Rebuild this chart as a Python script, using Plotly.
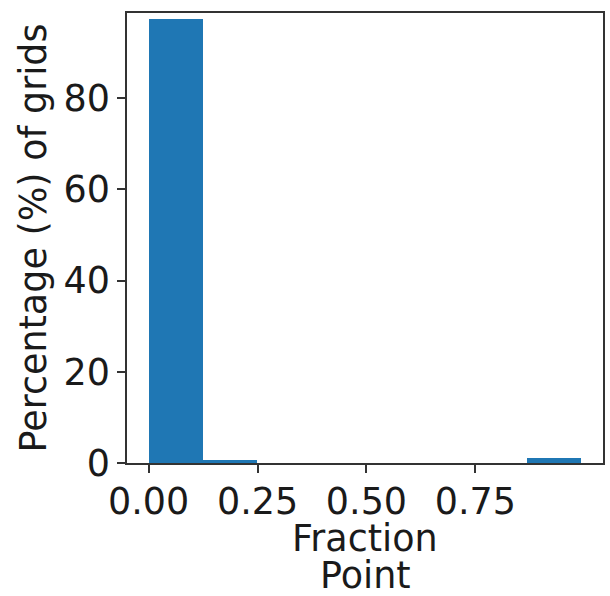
import plotly.graph_objects as go

# Histogram of the fraction point per grid (8 equal bins)
bin_edges = [0.0, 0.1241, 0.2483, 0.3724, 0.4965, 0.6206, 0.7448, 0.8689, 0.993]
percent = [97.4, 0.6, 0.0, 0.0, 0.0, 0.0, 0.0, 1.2]

x_ticks = [0.0, 0.25, 0.5, 0.75]
x_tick_text = ["0.00", "0.25", "0.50", "0.75"]
y_ticks = [0, 20, 40, 60, 80]
x_title_lines = ["Fraction", "Point"]
y_title = "Percentage (%) of grids"

centers = [(a + b) / 2 for a, b in zip(bin_edges[:-1], bin_edges[1:])]
widths = [b - a for a, b in zip(bin_edges[:-1], bin_edges[1:])]

ink = "#1a1a1a"
font = dict(family="DejaVu Sans", size=36.5, color=ink)

fig = go.Figure(
    go.Bar(
        x=centers,
        y=percent,
        width=widths,
        marker=dict(color="#1f77b4", line=dict(width=0)),
    )
)

axis_common = dict(
    showline=True,
    linecolor="#333333",
    linewidth=1.5,
    mirror=True,
    ticks="outside",
    ticklen=8,
    tickwidth=1.5,
    tickcolor="#333333",
    showgrid=False,
    zeroline=False,
    tickfont=font,
)

fig.update_xaxes(
    range=[-0.0497, 1.043],
    tickvals=x_ticks,
    ticktext=x_tick_text,
    ticklabelstandoff=-3,
    **axis_common,
)
fig.update_yaxes(
    range=[0, 98.7],
    tickvals=y_ticks,
    title=dict(text=y_title, font=font, standoff=6),
    ticklabelstandoff=0,
    **axis_common,
)

# Two-line x-axis title, placed line by line for tighter spacing
for line, ypos in zip(x_title_lines, [-0.1667, -0.249]):
    fig.add_annotation(
        text=line,
        x=0.5,
        y=ypos,
        xref="paper",
        yref="paper",
        xanchor="center",
        yanchor="middle",
        showarrow=False,
        font=font,
    )

fig.update_layout(
    width=610,
    height=596,
    margin=dict(l=127, r=5, t=13, b=133),
    paper_bgcolor="white",
    plot_bgcolor="white",
    showlegend=False,
    bargap=0,
)

fig.write_html("out.html")
